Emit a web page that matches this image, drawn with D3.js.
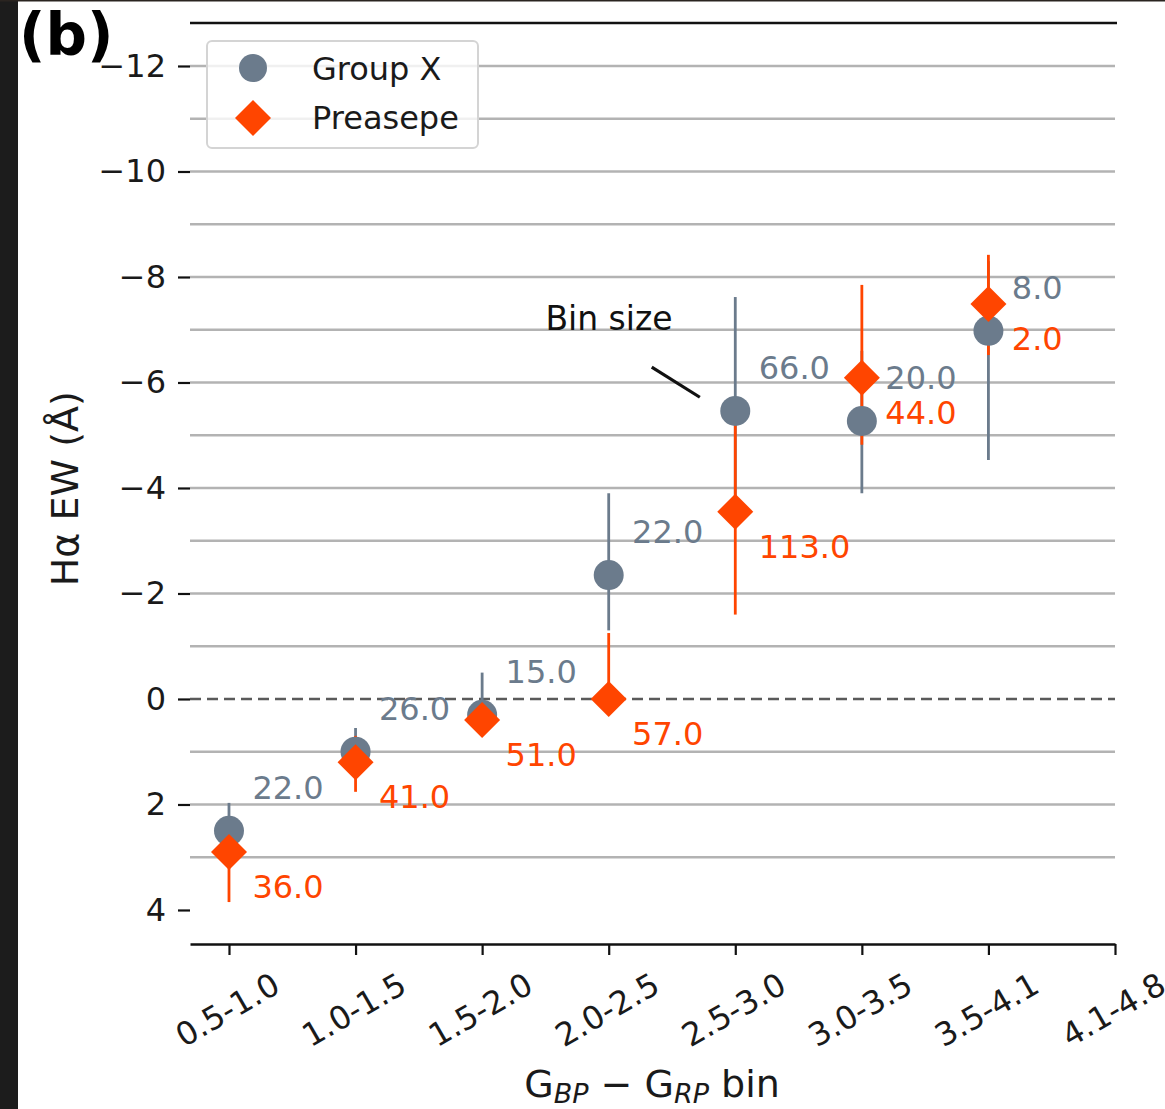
<!DOCTYPE html>
<html>
<head>
<meta charset="utf-8">
<script src="https://cdn.jsdelivr.net/npm/d3@7"></script>
<style>
  html, body { margin: 0; padding: 0; background: #ffffff; }
  svg { display: block; }
  text { font-family: "DejaVu Sans", sans-serif; }
</style>
</head>
<body>
<svg id="chart" width="1165" height="1109"></svg>
<script>
// ---- data ----
const categories = ["0.5-1.0", "1.0-1.5", "1.5-2.0", "2.0-2.5", "2.5-3.0", "3.0-3.5", "3.5-4.1", "4.1-4.8"];

const groupXEW   = [2.5, 1.0, 0.3, -2.35, -5.46, -5.27, -6.98];
const groupXTop  = [1.97, 0.55, -0.5, -3.9, -7.62, -6.6, -8.3];
const groupXBot  = [3.0, 1.4, 0.6, -1.3, -3.3, -3.9, -4.53];
const groupXN    = ["22.0", "26.0", "15.0", "22.0", "66.0", "20.0", "8.0"];

const praesepeEW  = [2.9, 1.2, 0.4, 0.0, -3.55, -6.09, -7.49];
const praesepeTop = [2.4, 0.7, 0.25, -1.25, -5.5, -7.85, -8.42];
const praesepeBot = [3.85, 1.76, 0.55, 0.25, -1.6, -4.82, -6.52];
const praesepeN   = ["36.0", "41.0", "51.0", "57.0", "113.0", "44.0", "2.0"];

const yTickValues = [-12, -10, -8, -6, -4, -2, 0, 2, 4];
const gridValues = [-12, -11, -10, -9, -8, -7, -6, -5, -4, -3, -2, -1, 0, 1, 2, 3];

const seriesNames = ["Group X", "Preasepe"];

// ---- style ----
const GRAY = "#6b7b8c";
const ORANGE = "#ff4500";
const FONT = 32;

const svg = d3.select("#chart");
const W = 1165, H = 1109;

svg.append("rect").attr("width", W).attr("height", H).attr("fill", "#ffffff");
// dark frame pieces of the screenshot
svg.append("rect").attr("x", 0).attr("y", 0).attr("width", 18).attr("height", H).attr("fill", "#1c1c1c");
svg.append("rect").attr("x", 0).attr("y", 0).attr("width", W).attr("height", 1.5).attr("fill", "#2a2420");

const plotLeft = 190, plotRight = 1115, plotTop = 23, plotBottom = 944;

const x = d3.scaleLinear().domain([-0.308, 7]).range([plotLeft, plotRight]);
const y = d3.scaleLinear().domain([-12.815, 4.645]).range([plotTop, plotBottom]);

// gridlines
const grid = svg.append("g");
gridValues.forEach(v => {
  grid.append("line")
    .attr("x1", plotLeft).attr("x2", plotRight)
    .attr("y1", y(v)).attr("y2", y(v))
    .attr("stroke", v === 0 ? "#5a5a5a" : "#b3b3b3")
    .attr("stroke-width", v === 0 ? 2.6 : 2.6)
    .attr("stroke-dasharray", v === 0 ? "11,6" : null);
});

// top spine
svg.append("line")
  .attr("x1", plotLeft).attr("x2", plotRight + 2)
  .attr("y1", y(-12.815)).attr("y2", y(-12.815))
  .attr("stroke", "#111").attr("stroke-width", 2.6);

// y axis
const yAxis = d3.axisLeft(y).tickValues(yTickValues).tickSize(12).tickPadding(12)
  .tickFormat(d3.format("d"));
const yg = svg.append("g").attr("transform", `translate(${plotLeft},0)`).call(yAxis);
yg.select(".domain").remove();
yg.selectAll(".tick line").attr("stroke", "#111").attr("stroke-width", 2.2);
yg.selectAll(".tick text").attr("font-size", FONT).attr("fill", "#1a1a1a")
  .style("font-family", "DejaVu Sans");

// x axis
const xAxis = d3.axisBottom(x).tickValues(d3.range(categories.length)).tickSize(11).tickSizeOuter(0)
  .tickFormat(i => categories[i]);
const xg = svg.append("g").attr("transform", `translate(0,${plotBottom})`).call(xAxis);
xg.select(".domain").attr("stroke", "#111").attr("stroke-width", 2.6);
xg.selectAll(".tick line").attr("stroke", "#111").attr("stroke-width", 2.2);
xg.selectAll(".tick text")
  .attr("font-size", FONT).attr("fill", "#1a1a1a")
  .style("font-family", "DejaVu Sans")
  .attr("text-anchor", "middle")
  .attr("dy", null)
  .attr("y", 0)
  .attr("dominant-baseline", "central")
  .attr("transform", "translate(-2,66) rotate(-30)");

// axis labels
svg.append("text")
  .attr("transform", `translate(78,${(y(-4) + y(-2)) / 2 - 52}) rotate(-90)`)
  .attr("text-anchor", "middle")
  .attr("font-size", 38).attr("fill", "#1a1a1a")
  .text("Hα EW (Å)");

const xl = svg.append("text")
  .attr("x", 652).attr("y", 1097)
  .attr("text-anchor", "middle")
  .attr("font-size", 38).attr("fill", "#1a1a1a");
xl.append("tspan").text("G");
xl.append("tspan").attr("font-size", 27).attr("font-style", "italic").attr("dy", 6).text("BP");
xl.append("tspan").attr("dy", -6).text(" − G");
xl.append("tspan").attr("font-size", 27).attr("font-style", "italic").attr("dy", 6).text("RP");
xl.append("tspan").attr("dy", -6).text(" bin");

// error bars
const idx = d3.range(groupXEW.length);
svg.append("g").selectAll("line").data(idx).join("line")
  .attr("x1", i => x(i)).attr("x2", i => x(i))
  .attr("y1", i => y(groupXTop[i])).attr("y2", i => y(groupXBot[i]))
  .attr("stroke", GRAY).attr("stroke-width", 2.8);
svg.append("g").selectAll("line").data(idx).join("line")
  .attr("x1", i => x(i)).attr("x2", i => x(i))
  .attr("y1", i => y(praesepeTop[i])).attr("y2", i => y(praesepeBot[i]))
  .attr("stroke", ORANGE).attr("stroke-width", 2.8);

// markers
svg.append("g").selectAll("circle").data(idx).join("circle")
  .attr("cx", i => x(i)).attr("cy", i => y(groupXEW[i])).attr("r", 15)
  .attr("fill", GRAY);
const diamond = (cx, cy, r) => `M${cx},${cy - r}L${cx + r},${cy}L${cx},${cy + r}L${cx - r},${cy}Z`;
svg.append("g").selectAll("path").data(idx).join("path")
  .attr("d", i => diamond(x(i), y(praesepeEW[i]), 18))
  .attr("fill", ORANGE);

// count labels
svg.append("g").selectAll("text").data(idx).join("text")
  .attr("x", i => x(i + 0.185)).attr("y", i => y(groupXEW[i] - 0.6))
  .attr("font-size", FONT).attr("fill", GRAY)
  .text(i => groupXN[i]);
svg.append("g").selectAll("text").data(idx).join("text")
  .attr("x", i => x(i + 0.185)).attr("y", i => y(praesepeEW[i] + 0.87))
  .attr("font-size", FONT).attr("fill", ORANGE)
  .text(i => praesepeN[i]);

// "Bin size" annotation
svg.append("text").attr("x", x(2.5)).attr("y", y(-7.0))
  .attr("font-size", 33).attr("fill", "#111").text("Bin size");
svg.append("line")
  .attr("x1", x(3.34)).attr("y1", y(-6.29))
  .attr("x2", x(3.72)).attr("y2", y(-5.72))
  .attr("stroke", "#111").attr("stroke-width", 3.2);

// legend
const lg = svg.append("g");
lg.append("rect").attr("x", 207).attr("y", 41).attr("width", 271).attr("height", 107)
  .attr("rx", 5).attr("fill", "#ffffff").attr("fill-opacity", 0.8)
  .attr("stroke", "#d4d4d4").attr("stroke-width", 2);
lg.append("line").attr("x1", 253).attr("x2", 253).attr("y1", 55).attr("y2", 81)
  .attr("stroke", GRAY).attr("stroke-width", 2.6);
lg.append("circle").attr("cx", 253).attr("cy", 68).attr("r", 14).attr("fill", GRAY);
lg.append("path").attr("d", diamond(253, 118, 18)).attr("fill", ORANGE);
lg.append("text").attr("x", 312).attr("y", 80).attr("font-size", FONT).attr("fill", "#1a1a1a").text(seriesNames[0]);
lg.append("text").attr("x", 312).attr("y", 129).attr("font-size", FONT).attr("fill", "#1a1a1a").text(seriesNames[1]);

// panel letter
svg.append("text").attr("x", 19).attr("y", 55)
  .attr("font-size", 58).attr("font-weight", "bold").attr("fill", "#000")
  .text("(b)");
</script>
</body>
</html>
